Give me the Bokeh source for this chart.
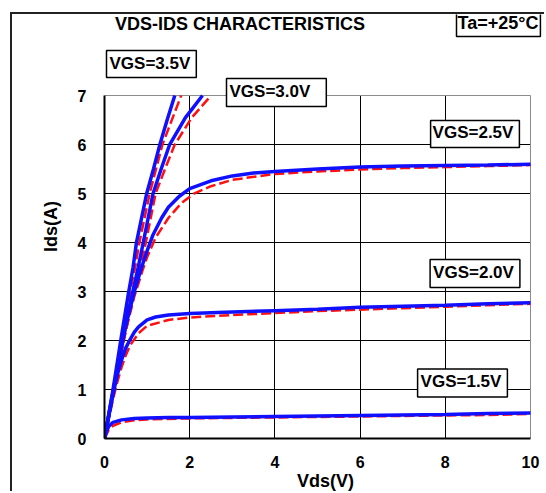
from bokeh.plotting import figure
from bokeh.models import Range1d, FixedTicker, Label, BoxAnnotation, Grid
from bokeh.embed import file_html
from bokeh.resources import INLINE

# ---- data ----
vds_15_b = [0, 0.05, 0.1, 0.2, 0.4, 0.7, 1.0, 1.5, 2, 3, 4, 5, 6, 7, 8, 9, 10]
ids_15_b = [0, 0.15, 0.25, 0.33, 0.38, 0.41, 0.42, 0.43, 0.43, 0.44, 0.45, 0.46, 0.47, 0.48, 0.49, 0.51, 0.52]
vds_15_r = [0, 0.1, 0.2, 0.4, 0.7, 1.0, 2, 3, 4, 5, 6, 7, 8, 9, 10]
ids_15_r = [0, 0.18, 0.26, 0.33, 0.37, 0.39, 0.41, 0.42, 0.43, 0.44, 0.45, 0.46, 0.47, 0.48, 0.50]

vds_20_b = [0, 0.1, 0.2, 0.3, 0.4, 0.5, 0.6, 0.7, 0.8, 1.0, 1.2, 1.5, 2, 3, 4, 5, 6, 7, 8, 9, 10]
ids_20_b = [0, 0.45, 0.9, 1.3, 1.6, 1.85, 2.02, 2.17, 2.28, 2.42, 2.48, 2.52, 2.55, 2.58, 2.61, 2.64, 2.68, 2.70, 2.72, 2.75, 2.77]
vds_20_r = [0, 0.1, 0.2, 0.3, 0.4, 0.5, 0.6, 0.8, 1.0, 1.5, 2, 3, 4, 5, 6, 7, 8, 9, 10]
ids_20_r = [0, 0.4, 0.8, 1.15, 1.45, 1.7, 1.9, 2.15, 2.3, 2.42, 2.47, 2.52, 2.56, 2.60, 2.63, 2.66, 2.69, 2.72, 2.75]

vds_25_b = [0, 0.2, 0.5, 0.7, 0.87, 1.0, 1.14, 1.34, 1.5, 1.75, 2.0, 2.5, 3, 3.5, 4, 5, 6, 7, 8, 9, 10]
ids_25_b = [0, 0.95, 2.3, 3.0, 3.49, 3.83, 4.16, 4.5, 4.72, 4.94, 5.1, 5.26, 5.36, 5.42, 5.45, 5.5, 5.54, 5.56, 5.57, 5.58, 5.6]
vds_25_r = [0, 0.2, 0.5, 0.7, 0.9, 1.0, 1.2, 1.5, 1.8, 2.1, 2.5, 3, 4, 5, 6, 7, 8, 9, 10]
ids_25_r = [0, 0.9, 2.2, 2.9, 3.45, 3.7, 4.1, 4.5, 4.8, 5.0, 5.15, 5.28, 5.4, 5.45, 5.49, 5.52, 5.54, 5.56, 5.58]

vds_30_b = [0, 0.2, 0.4, 0.6, 0.79, 0.91, 1.14, 1.33, 1.53, 1.9, 2.3]
ids_30_b = [0, 0.95, 1.9, 2.75, 3.49, 4.0, 5.0, 5.5, 6.0, 6.55, 7.0]
vds_30_r = [0, 0.2, 0.4, 0.6, 0.85, 0.97, 1.2, 1.42, 1.65, 2.05, 2.5]
ids_30_r = [0, 0.9, 1.8, 2.6, 3.5, 4.0, 5.0, 5.5, 6.0, 6.55, 7.0]

vds_35_b = [0, 0.2, 0.4, 0.55, 0.67, 0.75, 0.87, 0.99, 1.15, 1.3, 1.47, 1.65]
ids_35_b = [0, 1.0, 2.1, 2.9, 3.49, 4.0, 4.5, 5.0, 5.5, 6.0, 6.5, 7.0]
vds_35_r = [0, 0.2, 0.4, 0.6, 0.72, 0.82, 1.06, 1.36, 1.8]
ids_35_r = [0, 0.95, 2.0, 3.0, 3.5, 4.0, 5.0, 6.0, 7.0]

x_ticks = [0, 2, 4, 6, 8, 10]
y_ticks = [0, 1, 2, 3, 4, 5, 6, 7]
x_min, x_max = 0, 10
y_min, y_max = 0, 7
title_text = "VDS-IDS CHARACTERISTICS"
temp_text = "Ta=+25°C"
x_label = "Vds(V)"
y_label = "Ids(A)"
vgs_labels = ["VGS=3.5V", "VGS=3.0V", "VGS=2.5V", "VGS=2.0V", "VGS=1.5V"]

FONT = "Liberation Sans"
BLUE = "#1010FF"
RED = "#FF1010"

# ---- layout (page pixels) ----
OFF_X, OFF_Y = 12, 14          # canvas origin inside page (after css margin + border)
CANVAS_W, CANVAS_H = 534, 479
PA_L, PA_R, PA_T, PA_B = 104, 530, 96, 443   # plot area (data box) in page px
FR_L, FR_T = PA_L, OFF_Y                      # frame spans up to the top and to the right edge
FR_R = OFF_X + CANVAS_W
frame_w = FR_R - FR_L
frame_h = PA_B - FR_T
x_end = x_min + (x_max - x_min) * frame_w / (PA_R - PA_L)
y_end = y_min + (y_max - y_min) * frame_h / (PA_B - PA_T)

p = figure(width=CANVAS_W, height=CANVAS_H, output_backend="svg", toolbar_location=None,
           x_range=Range1d(x_min, x_end), y_range=Range1d(y_min, y_end),
           min_border_left=FR_L - OFF_X, min_border_right=0,
           min_border_top=0, min_border_bottom=OFF_Y + CANVAS_H - PA_B,
           styles={"margin-left": "10px", "margin-top": "12px",
                   "border-left": "2px solid #222222", "border-top": "2px solid #222222"})
p.background_fill_color = "white"
p.border_fill_color = "white"
p.outline_line_color = None

# grids (limited to the data box)
p.xgrid.ticker = FixedTicker(ticks=[2, 4, 6, 8])
p.ygrid.ticker = FixedTicker(ticks=[1, 2, 3, 4, 5, 6])
for g in (p.xgrid[0], p.ygrid[0]):
    g.grid_line_color = "black"
    g.grid_line_width = 1
edge_x = Grid(dimension=0, ticker=FixedTicker(ticks=[x_max]), grid_line_color="#8c8c8c", grid_line_width=1)
edge_y = Grid(dimension=1, ticker=FixedTicker(ticks=[y_max]), grid_line_color="#8c8c8c", grid_line_width=1)
p.add_layout(edge_x)
p.add_layout(edge_y)

has_cross = "cross_bounds" in Grid.properties()
if has_cross:
    for g in (p.xgrid[0], edge_x):
        g.cross_bounds = (y_min, y_max)
    for g in (p.ygrid[0], edge_y):
        g.cross_bounds = (x_min, x_max)
else:
    p.add_layout(BoxAnnotation(bottom=y_max + 0.015, fill_color="white", fill_alpha=1,
                               line_color=None, level="underlay"))
    p.add_layout(BoxAnnotation(left=x_max + 0.02, fill_color="white", fill_alpha=1,
                               line_color=None, level="underlay"))

# axes
p.xaxis.ticker = FixedTicker(ticks=x_ticks)
p.yaxis.ticker = FixedTicker(ticks=y_ticks)
p.xaxis.bounds = (x_min, x_max)
p.yaxis.bounds = (y_min, y_max)
for ax in (p.xaxis[0], p.yaxis[0]):
    ax.axis_line_color = "black"
    ax.axis_line_width = 2
    ax.major_tick_out = 0
    ax.major_tick_in = 0
    ax.minor_tick_out = 0
    ax.minor_tick_in = 0
    ax.major_label_text_font = FONT
    ax.major_label_text_font_style = "bold"
    ax.major_label_text_font_size = "16px"
    ax.major_label_text_color = "black"
    ax.axis_label_text_font = FONT
    ax.axis_label_text_font_style = "bold"
    ax.axis_label_text_font_size = "18px"
    ax.axis_label_text_color = "black"
p.xaxis.axis_label = x_label
p.yaxis.axis_label = y_label
p.xaxis.major_label_standoff = 17
p.yaxis.major_label_standoff = 18
p.xaxis.axis_label_standoff = 0
p.yaxis.axis_label_standoff = 14

# curves: red dashed under blue solid
series = [
    (vds_15_b, ids_15_b, vds_15_r, ids_15_r),
    (vds_20_b, ids_20_b, vds_20_r, ids_20_r),
    (vds_25_b, ids_25_b, vds_25_r, ids_25_r),
    (vds_30_b, ids_30_b, vds_30_r, ids_30_r),
    (vds_35_b, ids_35_b, vds_35_r, ids_35_r),
]
for xb, yb, xr, yr in series:
    p.line(xr, yr, line_color=RED, line_width=2.5, line_dash="10 4")
for xb, yb, xr, yr in series:
    p.line(xb, yb, line_color=BLUE, line_width=3.5)

# screen coords relative to frame (left, bottom)
def sx(px):
    return px - FR_L

def sy(py):
    return PA_B - py

p.add_layout(Label(x=sx(239.5), y=sy(28), x_units="screen", y_units="screen",
                   text=title_text, text_font=FONT, text_font_style="bold",
                   text_font_size="18px", text_align="center", text_baseline="middle",
                   text_color="black"))

def boxed(text, x, y, align, pad, size="17px"):
    p.add_layout(Label(x=x, y=y, x_units="screen", y_units="screen", text=text,
                       text_font=FONT, text_font_style="bold", text_font_size=size,
                       text_align=align, text_baseline="middle", text_color="black",
                       background_fill_color="white", border_line_color="black",
                       border_line_width=1.5, padding=pad))

boxed(temp_text, sx(456), sy(28), "left", (1, 2, 2, 4), "18px")
boxed(vgs_labels[0], sx(106), sy(68.5), "left", (3, 6, 3, 5))
boxed(vgs_labels[1], sx(226), sy(97), "left", (3, 16, 3, 6))
boxed(vgs_labels[2], sx(474.5), sy(138.5), "center", (2, 6, 2, 6))
boxed(vgs_labels[3], sx(474.5), sy(278), "center", (3, 6, 3, 6))
boxed(vgs_labels[4], sx(462), sy(387.5), "center", (3, 6, 3, 6))

open("out.html", "w").write(file_html(p, INLINE))
